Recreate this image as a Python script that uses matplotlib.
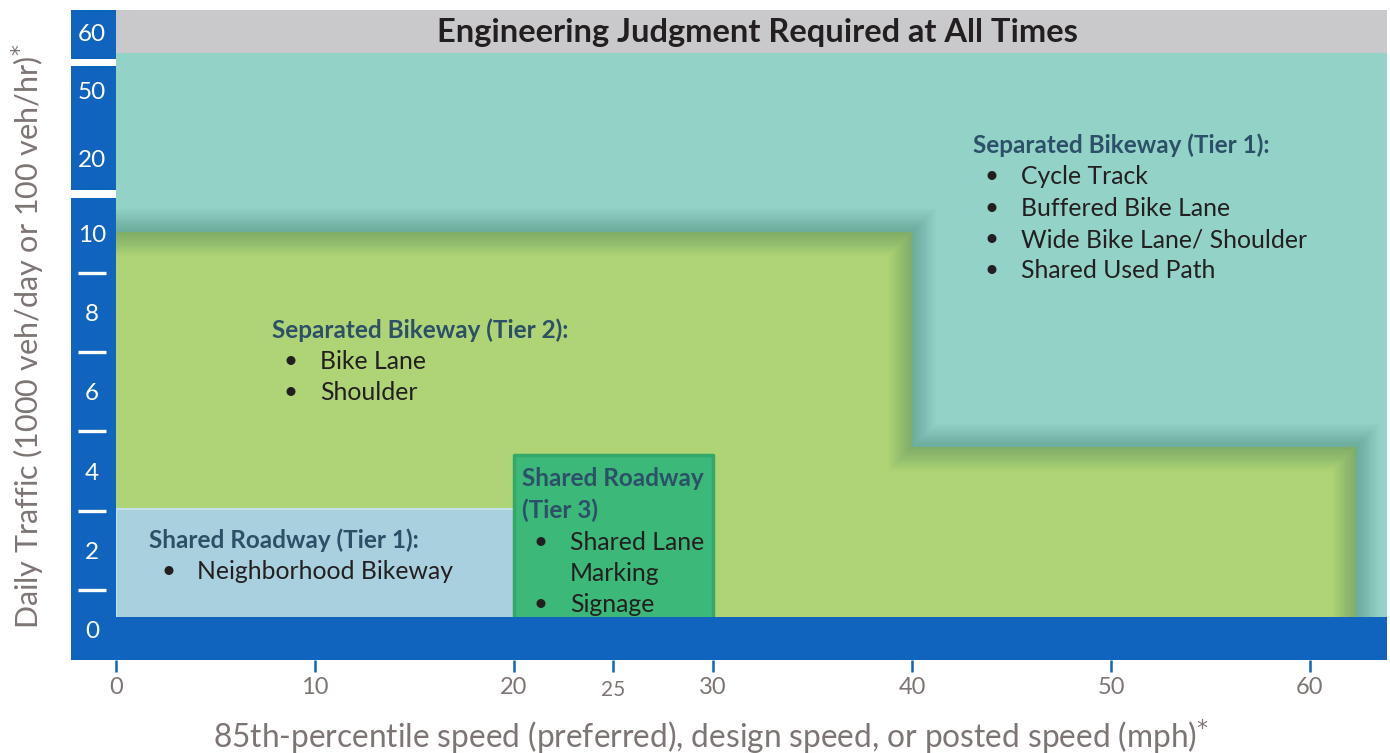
#!/usr/bin/python

from matplotlib import pyplot as plt
import numpy as np

# speed axis (mph)
speed_ticks = [0, 10, 20, 30, 40, 50, 60]
speed_extra = [25]
# traffic axis (1000 veh/day), broken above 10
traffic_ticks = [0, 2, 4, 6, 8, 10, 20, 50, 60]
traffic_minor = [1, 3, 5, 7, 9]
break_knots = [-10, 0, 10, 20, 50, 60, 80]
break_pos = [-10, 0, 10, 11.89, 13.6, 15.06, 17.98]

# facility zones
shared_t1_speed = [0, 20]
shared_t1_traffic = [3.05, 3.05]
shared_t3_speed = [20, 30]
shared_t3_traffic = [4.4, 4.4]
sep_t2_speed = [0, 40, 62.3]
sep_t2_traffic = [10.1, 4.6, 4.6]
judgment_floor = 56.5

BLUE = '#1064bd'
TEAL = '#93d2c6'
GRAY = '#c9c9cb'
LIME = '#afd475'
SKY = '#a9d0de'
GREEN = '#3cb878'
HEAD = '#2c5068'
INK = '#231f20'
AXIS_GRAY = '#7d7573'

FONT = ['Lato', 'DejaVu Sans']
plt.rcParams['font.family'] = FONT


def fwd(y):
  return np.interp(y, break_knots, break_pos)


def inv(p):
  return np.interp(p, break_pos, break_knots)


def block(ax, x0, y0, heading, items):
  # x0, y0 in axes fraction; steps of ~31.5 px
  dy = 31.5 / 650
  dx = 1 / 1316
  y = y0
  for line in heading:
    ax.text(x0, y, line, transform=ax.transAxes, fontsize=17.5,
            fontweight='bold', color=HEAD, va='center', ha='left')
    y -= dy
  for bullet, text in items:
    if bullet:
      ax.text(x0 + 19 * dx, y, '\u2022', transform=ax.transAxes,
              fontsize=17.5, color=INK, va='center', ha='center')
    ax.text(x0 + 48 * dx, y, text, transform=ax.transAxes, fontsize=17.8,
            color=INK, va='center', ha='left')
    y -= dy


def main():
  fig = plt.figure(figsize=(13.9, 7.53), dpi=100)
  ax = fig.add_axes([71 / 1390, 93 / 753, 1316 / 1390, 650 / 753])
  ax.set_yscale('function', functions=(fwd, inv))
  ax.set_xlim(-2.26, 63.87)
  ax.set_ylim(-0.76, inv(15.62))
  ax.set_facecolor(TEAL)
  for s in ax.spines.values():
    s.set_visible(False)

  # zones
  ax.fill_between(sep_t2_speed, sep_t2_traffic, 0, step='post', color=LIME,
                  lw=0, zorder=0.5)
  # soft shadow along the tier 2 edge
  edge_x = sep_t2_speed + [sep_t2_speed[-1]]
  edge_y = sep_t2_traffic + [0]
  for lw in np.linspace(34, 2, 14):
    ax.plot(edge_x, edge_y, drawstyle='steps-post', color='#2f6f5a', lw=lw,
            alpha=0.028, solid_joinstyle='miter', zorder=0.6)
  ax.fill_between(shared_t1_speed, shared_t1_traffic, 0, color=SKY,
                  edgecolor='#c3e0ea', lw=1.5, zorder=0.7)
  ax.fill_between(shared_t3_speed, shared_t3_traffic, 0, color=GREEN,
                  edgecolor='#34a866', lw=2.5, zorder=0.8)

  # frame pieces
  ax.axhspan(judgment_floor, 100, color=GRAY, lw=0, zorder=0.9)
  ax.axvspan(-10, 0, color=BLUE, lw=0, zorder=1)
  ax.axhspan(-10, 0.33, color=BLUE, lw=0, zorder=1)
  # axis break gaps on the left bar
  for lo, hi in [(54.2, 55.4), (14.7, 15.7)]:
    ax.axhspan(lo, hi, xmin=0, xmax=2.26 / 66.13, color='white', lw=0,
               zorder=1.1)

  # y axis inside the blue bar
  ax.spines['left'].set_position(('axes', 7 / 1316))
  ax.set_yticks(traffic_ticks)
  ax.set_yticklabels([str(t) for t in traffic_ticks])
  ax.set_yticks(traffic_minor, minor=True)
  ax.tick_params(axis='y', which='major', length=0, pad=-10.1,
                 labelcolor='white', labelsize=17.5)
  ax.tick_params(axis='y', which='minor', direction='in', length=20.5,
                 width=2.4, color='white')
  for tick in ax.yaxis.get_major_ticks():
    tick.label1.set_horizontalalignment('center')

  # x axis
  ax.set_xticks(speed_ticks)
  ax.set_xticks(speed_extra, minor=True)
  ax.set_xticklabels([str(t) for t in speed_extra], minor=True)
  ax.tick_params(axis='x', which='both', direction='out', length=8.6,
                 width=1.8, color=BLUE, labelcolor=AXIS_GRAY)
  ax.tick_params(axis='x', which='major', labelsize=17, pad=4)
  ax.tick_params(axis='x', which='minor', labelsize=15, pad=6)

  ax.set_xlabel('85th-percentile speed (preferred), design speed, '
                'or posted speed (mph)$^{*}$', fontsize=22.8, color=AXIS_GRAY)
  ax.xaxis.set_label_coords((711 - 71) / 1316, (660 - 717) / 650)
  ax.set_ylabel('Daily Traffic (1000 veh/day or 100 veh/hr)$^{*}$',
                fontsize=22, color=AXIS_GRAY)
  ax.yaxis.set_label_coords((47 - 71) / 1316, (660 - 336) / 650)

  ax.text((757 - 71) / 1316, 60, 'Engineering Judgment Required at All Times',
          transform=ax.get_yaxis_transform(), ha='center', va='center',
          fontsize=23.5, fontweight='bold', color=INK)

  fx = lambda px: (px - 71) / 1316
  fy = lambda py: (660 - py) / 650
  block(ax, fx(973), fy(145), ['Separated Bikeway (Tier 1):'],
        [(True, 'Cycle Track'), (True, 'Buffered Bike Lane'),
         (True, 'Wide Bike Lane/ Shoulder'), (True, 'Shared Used Path')])
  block(ax, fx(272), fy(330), ['Separated Bikeway (Tier 2):'],
        [(True, 'Bike Lane'), (True, 'Shoulder')])
  block(ax, fx(149), fy(540), ['Shared Roadway (Tier 1):'],
        [(True, 'Neighborhood Bikeway')])
  block(ax, fx(522), fy(479), ['Shared Roadway', '(Tier 3)'],
        [(True, 'Shared Lane'), (False, 'Marking'), (True, 'Signage')])

  fig.savefig('out.png', dpi=100)


if __name__ == '__main__':
  main()
